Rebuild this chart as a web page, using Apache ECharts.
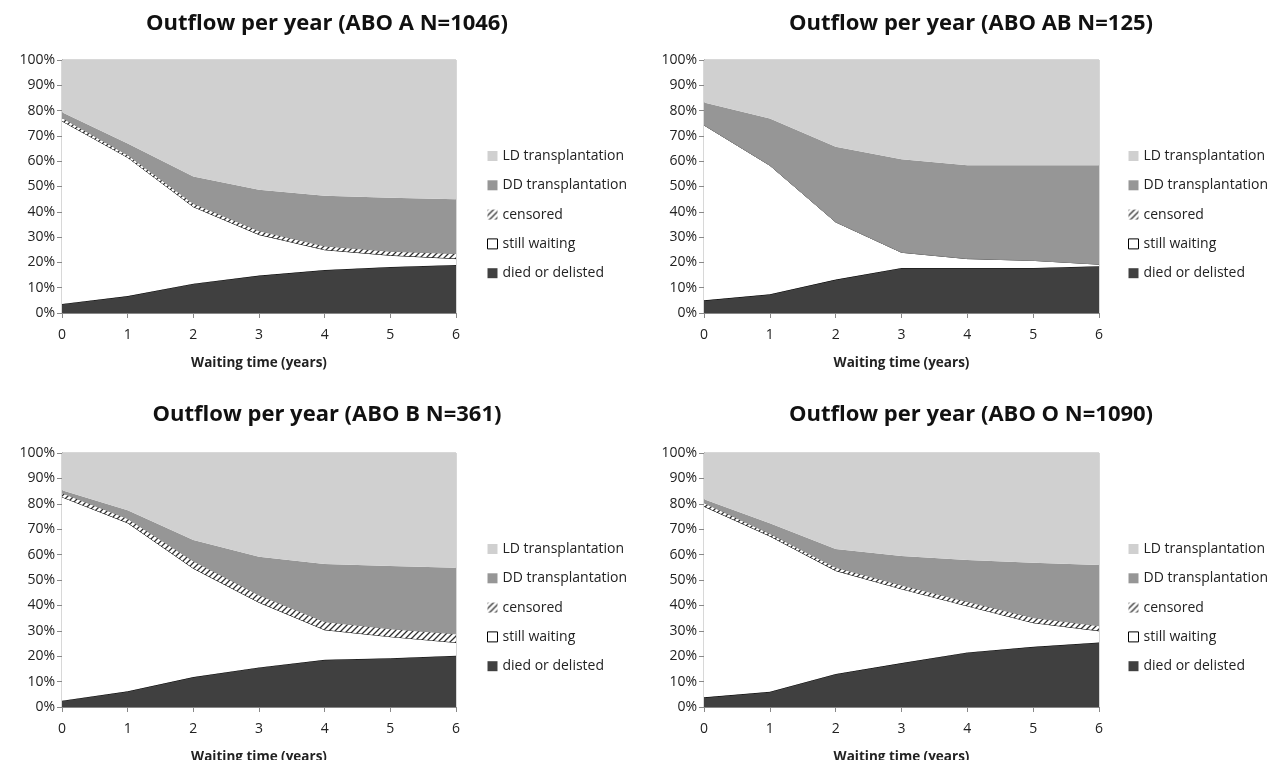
<!DOCTYPE html>
<html>
<head>
<meta charset="utf-8">
<script src="https://cdn.jsdelivr.net/npm/echarts@6/dist/echarts.min.js"></script>
<style>
  html, body { margin: 0; padding: 0; background: #fff; }
  #app { width: 1278px; height: 760px; }
</style>
</head>
<body>
<div id="app"></div>
<script>
const years = ['0', '1', '2', '3', '4', '5', '6']
const layerNames = ['died or delisted', 'still waiting', 'censored', 'DD transplantation', 'LD transplantation']
const chartTitles = [
  'Outflow per year (ABO A N=1046)',
  'Outflow per year (ABO AB N=125)',
  'Outflow per year (ABO B N=361)',
  'Outflow per year (ABO O N=1090)'
]

// share of patients (%) per layer, bottom to top
const diedA = [3.6, 6.7, 11.6, 14.8, 17.0, 18.2, 19.0]
const waitingA = [72.3, 54.8, 30.4, 16.2, 8.0, 4.6, 2.5]
const censoredA = [1.3, 1.0, 1.3, 1.5, 1.5, 1.6, 2.0]
const ddA = [2.1, 4.5, 10.7, 16.2, 19.8, 21.2, 21.5]
const ldA = [20.7, 33.0, 46.0, 51.3, 53.7, 54.4, 55.0]

const diedAB = [5.0, 7.4, 13.2, 17.8, 17.8, 17.8, 18.5]
const waitingAB = [69.3, 51.0, 22.8, 6.2, 3.7, 3.0, 0.8]
const censoredAB = [0, 0, 0, 0, 0, 0, 0]
const ddAB = [8.9, 18.5, 29.7, 36.8, 36.9, 37.6, 39.1]
const ldAB = [16.8, 23.1, 34.3, 39.2, 41.6, 41.6, 41.6]

const diedB = [2.5, 6.2, 11.8, 15.6, 18.6, 19.2, 20.2]
const waitingB = [80.2, 66.3, 42.8, 25.6, 11.8, 8.5, 5.2]
const censoredB = [1.6, 1.7, 2.9, 2.9, 3.2, 3.1, 3.4]
const ddB = [1.0, 3.3, 8.2, 15.1, 22.7, 24.7, 26.0]
const ldB = [14.7, 22.5, 34.3, 40.8, 43.7, 44.5, 45.2]

const diedO = [3.8, 6.0, 13.0, 17.3, 21.5, 23.7, 25.4]
const waitingO = [75.2, 61.3, 40.7, 29.2, 18.3, 9.5, 4.6]
const censoredO = [1.4, 1.0, 1.3, 1.5, 1.7, 2.0, 2.0]
const ddO = [1.4, 4.0, 7.2, 11.4, 16.4, 21.6, 23.9]
const ldO = [18.2, 27.7, 37.8, 40.6, 42.1, 43.2, 44.1]

const panels = [
  [diedA, waitingA, censoredA, ddA, ldA],
  [diedAB, waitingAB, censoredAB, ddAB, ldAB],
  [diedB, waitingB, censoredB, ddB, ldB],
  [diedO, waitingO, censoredO, ddO, ldO]
]

const FONT = '"Open Sans", sans-serif'

function hatchPattern() {
  const c = document.createElement('canvas')
  c.width = 6
  c.height = 6
  const ctx = c.getContext('2d')
  ctx.fillStyle = '#ffffff'
  ctx.fillRect(0, 0, 6, 6)
  ctx.strokeStyle = '#303030'
  ctx.lineWidth = 1.3
  ctx.beginPath()
  ctx.moveTo(-1, 7); ctx.lineTo(7, -1)
  ctx.moveTo(-4, 4); ctx.lineTo(4, -4)
  ctx.moveTo(2, 10); ctx.lineTo(10, 2)
  ctx.stroke()
  return c
}
const hatch = { image: hatchPattern(), repeat: 'repeat' }

const layerStyles = [
  { fill: '#404040', line: { color: '#000', width: 1 }, item: { color: '#404040' } },
  { fill: '#ffffff', line: { color: '#000', width: 1 }, item: { color: '#ffffff', borderColor: '#000', borderWidth: 1 } },
  { fill: hatch, line: { color: '#888', width: 1 }, item: { color: hatch } },
  { fill: '#969696', line: { width: 0 }, item: { color: '#969696' } },
  { fill: '#d0d0d0', line: { width: 0 }, item: { color: '#d0d0d0' } }
]

const grids = [
  { left: 62, top: 60, width: 394, height: 253 },
  { left: 704, top: 60, width: 395, height: 253 },
  { left: 62, top: 453, width: 394, height: 254 },
  { left: 704, top: 453, width: 395, height: 254 }
]
const titlePos = [
  { x: 322, y: 8 }, { x: 966, y: 8 }, { x: 322, y: 399 }, { x: 966, y: 399 }
]
const legendPos = [
  { left: 487, top: 149 }, { left: 1128, top: 149 }, { left: 487, top: 542 }, { left: 1128, top: 542 }
]

function buildOption() {
  const option = {
    animation: false,
    backgroundColor: '#fff',
    textStyle: { fontFamily: FONT },
    title: [], grid: [], xAxis: [], yAxis: [], legend: [], series: []
  }
  panels.forEach((layers, p) => {
    option.title.push({
      text: chartTitles[p],
      left: titlePos[p].x, top: titlePos[p].y, textAlign: 'center',
      textStyle: { fontFamily: FONT, fontSize: 22, fontWeight: 'bold', color: '#111' }
    })
    option.grid.push(Object.assign({
      show: true, borderColor: '#b0b0b0', borderWidth: 1, backgroundColor: 'transparent',
      containLabel: false, outerBoundsMode: 'none'
    }, grids[p]))
    option.xAxis.push({
      type: 'category', gridIndex: p, data: years, boundaryGap: false,
      name: 'Waiting time (years)', nameLocation: 'middle', nameGap: 43,
      nameTextStyle: { fontFamily: FONT, fontSize: 13.5, fontWeight: 'bold', color: '#222' },
      axisLine: { lineStyle: { color: '#888', width: 1 } },
      axisTick: { show: true, length: 5, lineStyle: { color: '#888' } },
      axisLabel: { fontFamily: FONT, fontSize: 14, color: '#222', margin: 15 },
      splitLine: { show: false }
    })
    option.yAxis.push({
      type: 'value', gridIndex: p, min: 0, max: 100, interval: 10,
      axisLine: { show: true, lineStyle: { color: '#888', width: 1 } },
      axisTick: { show: true, length: 5, lineStyle: { color: '#888' } },
      axisLabel: { fontFamily: FONT, fontSize: 14, color: '#222', formatter: '{value}%', margin: 7 },
      splitLine: { show: false }
    })
    option.legend.push({
      orient: 'vertical', left: legendPos[p].left, top: legendPos[p].top,
      padding: 0,
      icon: 'rect', itemWidth: 10, itemHeight: 10, itemGap: 15.3,
      selectedMode: false,
      textStyle: { fontFamily: FONT, fontSize: 14, color: '#222', lineHeight: 14 },
      data: layerNames.slice().reverse().map(name => {
        const st = layerStyles[layerNames.indexOf(name)]
        return { name: name, itemStyle: st.item }
      })
    })
    layers.forEach((vals, i) => {
      const st = layerStyles[i]
      option.series.push({
        name: layerNames[i], type: 'line', stack: 'panel' + p,
        xAxisIndex: p, yAxisIndex: p, data: vals,
        showSymbol: false, symbol: 'none', smooth: false,
        lineStyle: st.line, itemStyle: st.item,
        areaStyle: { color: st.fill, opacity: 1 },
        z: 2 + i
      })
    })
  })
  return option
}

const myChart = echarts.init(document.getElementById('app'))
myChart.setOption(buildOption())
</script>
</body>
</html>
